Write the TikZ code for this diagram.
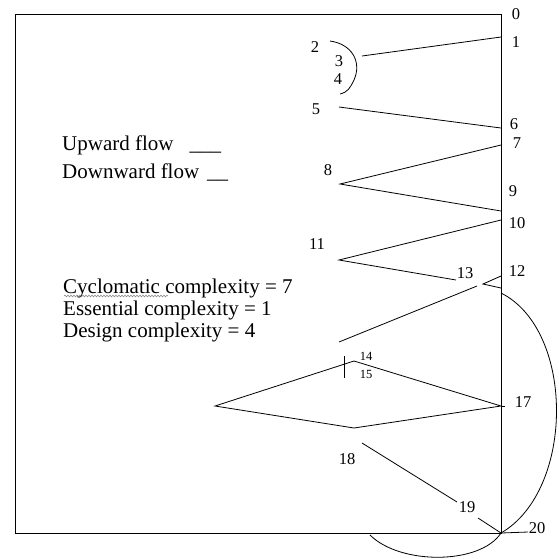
\documentclass[tikz,border=0pt]{standalone}
\usepackage{fontspec}
\setmainfont{Liberation Serif}
\usetikzlibrary{decorations.pathmorphing}
\tikzset{
num/.style={
font=\fontsize{16.5}{16.5}\selectfont,
inner sep=0pt
},
smallnum/.style={
font=\fontsize{12.5}{12.5}\selectfont,
inner sep=0pt
},
note/.style={
font=\fontsize{21}{22}\selectfont,
inner sep=0pt,
anchor=base west
},
flow/.style={
line width=0.8pt
}
}

\begin{document}
\begin{tikzpicture}[x=1pt,y=-1pt]
\useasboundingbox (0,0) rectangle (559,558);
\draw[line width=0.9pt] (15,14) rectangle (501,533);

% statement numbers
\foreach \n/\x/\y in {0/516/14,1/516/42,2/315/47,3/339/61,4/338/79,5/316/109,6/514/124,
7/517/143,8/328/170,9/513/191,10/517/223,11/317/244,12/517/271,13/465/273,
17/523/402,18/347/459,19/467/507,20/537/528}
\node[num] (n\n) at (\x,\y) {\n};
\node[smallnum] (n14) at (366,356) {14};
\node[smallnum] (n15) at (366,374) {15};

% legend and metrics
\node[note] (up) at (62,150) {Upward flow\hspace{16pt}\_\_\_};
\node[note] (down) at (62,178) {Downward flow\hspace{8pt}\_\_};
\node[note] (cyc) at (63,293) {Cyclomatic complexity = 7};
\node[note] (ess) at (63,315) {Essential complexity = 1};
\node[note] (des) at (63,337) {Design complexity = 4};
\draw[gray,line width=0.5pt,decorate,decoration={snake,amplitude=0.9pt,segment length=3pt}]
(cyc.base west)++(1,3) -- ++(104,0);

% points of the flow
\coordinate (r1) at (501,37);
\coordinate (b3) at (362,56);
\coordinate (a2) at (330,41);
\coordinate (a4) at (340,94);
\coordinate (a5) at (339,107);
\coordinate (r6) at (501,128);
\coordinate (r7) at (501,145);
\coordinate (v8) at (340,184);
\coordinate (r9) at (501,211);
\coordinate (r10) at (501,220);
\coordinate (v11) at (339,260);
\coordinate (e13) at (456,280);
\coordinate (r12a) at (501,276);
\coordinate (v12) at (483,284);
\coordinate (r12b) at (501,288);
\coordinate (s13) at (477,286);
\coordinate (s14) at (339,342);
\coordinate (r16) at (501,293);
\coordinate (t14) at (344,356);
\coordinate (t15) at (344,378);
\coordinate (dl) at (215,406);
\coordinate (dt) at (354,361);
\coordinate (dr) at (501,406);
\coordinate (db) at (354,428);
\coordinate (s18) at (362,443);
\coordinate (e19) at (457,502);
\coordinate (s19) at (478,518);
\coordinate (c20) at (501,533);
\coordinate (e20) at (528,532);
\coordinate (lo) at (370,535);

\draw[flow] (r1) -- (b3);
\draw[flow] (a2) .. controls (352,44) and (362,62) .. (354,80) .. controls (350,88) and (348,92) .. (a4);
\draw[flow] (a5) -- (r6);
\draw[flow] (r7) -- (v8) -- (r9);
\draw[flow] (r10) -- (v11) -- (e13);
\draw[flow] (r12a) -- (v12) -- (r12b);
\draw[flow] (s13) -- (s14);
\draw[flow] (t14) -- (t15);
\draw[flow] (dl) -- (dt) -- (dr) -- (db) -- cycle;
\draw[flow] (dr) -- ++(4,0);
\draw[flow] (s18) -- (e19);
\draw[flow] (s19) -- (c20);
\draw[flow] (c20) -- (e20);
\draw[flow] (r16) .. controls (575,330) and (575,490) .. (c20);
\draw[flow] (c20) .. controls (480,565) and (400,565) .. (lo);
\end{tikzpicture}
\end{document}
